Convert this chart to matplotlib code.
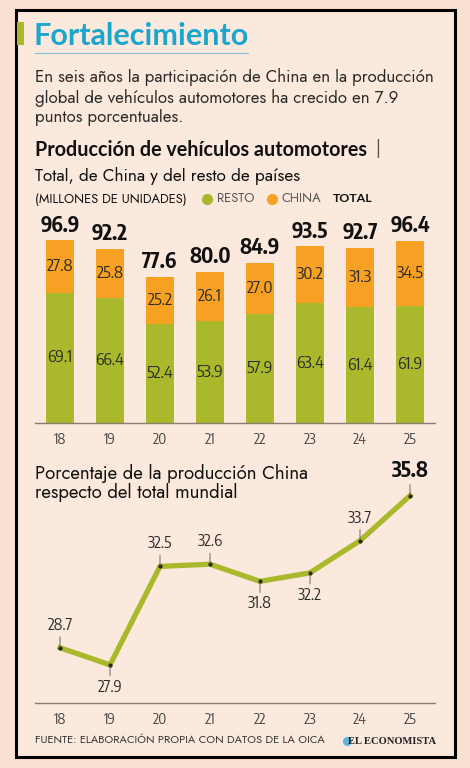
import matplotlib
matplotlib.use("Agg")
import matplotlib.pyplot as plt
from matplotlib.patches import Rectangle

# data
years = ["18", "19", "20", "21", "22", "23", "24", "25"]
resto = [69.1, 66.4, 52.4, 53.9, 57.9, 63.4, 61.4, 61.9]
china = [27.8, 25.8, 25.2, 26.1, 27.0, 30.2, 31.3, 34.5]
total = [96.9, 92.2, 77.6, 80.0, 84.9, 93.5, 92.7, 96.4]
share = [28.7, 27.9, 32.5, 32.6, 31.8, 32.2, 33.7, 35.8]
share_below = [False, True, False, False, True, True, False, False]

GREEN = "#a9b92b"
ORANGE = "#f6a124"
BLUE = "#1ba6cc"
TXT = "#2b2b2b"
BG_OUT = "#fae2d2"
BG_IN = "#fce9dd"

COND = ["Encode Sans Condensed", "DejaVu Sans"]
SANS = ["Jost", "Lato", "DejaVu Sans"]
BOLD = ["Lato", "DejaVu Sans"]  # Jost only ships a regular weight here

W, H = 470, 768
fig = plt.figure(figsize=(W / 100, H / 100), dpi=100, facecolor=BG_OUT)


def fx(x):
    return x / W


def fy(y):
    return 1 - y / H


def ftext(x, y, s, **kw):
    fig.text(fx(x), fy(y), s, **kw)


# frame
fig.patches.append(Rectangle((fx(16), fy(757)), fx(455) - fx(16), fy(10) - fy(757),
                             transform=fig.transFigure, facecolor=BG_IN,
                             edgecolor="black", linewidth=2.2, zorder=-5))
fig.patches.append(Rectangle((fx(17), fy(45)), fx(7), fy(22) - fy(45),
                             transform=fig.transFigure, facecolor=GREEN,
                             edgecolor="none", zorder=-4))
fig.lines.append(plt.Line2D([fx(35), fx(248)], [fy(53), fy(53)], transform=fig.transFigure,
                            color="#7cc3d8", lw=0.8))

ftext(33, 36, "Fortalecimiento", fontsize=22, fontweight="bold", color=BLUE,
      family=BOLD, va="center")
ftext(35, 97, "En seis años la participación de China en la producción\n"
      "global de vehículos automotores ha crecido en 7.9\npuntos porcentuales.",
      fontsize=12.1, color=TXT, family=SANS, va="center", linespacing=1.22)
ftext(35, 150, "Producción de vehículos automotores", fontsize=14.2, fontweight="bold",
      color="#111111", family=BOLD, va="center")
ftext(375, 149, "|", fontsize=13, color="#555555", family=SANS, va="center")
ftext(35, 176, "Total, de China y del resto de países", fontsize=12.4,
      color="#111111", family=SANS, va="center")
ftext(35, 199, "(MILLONES DE UNIDADES)", fontsize=9.3, color="#111111", family=SANS,
      va="center")
fig.lines.append(plt.Line2D([fx(207)], [fy(199)], transform=fig.transFigure, marker="o",
                            ms=7, color=GREEN, lw=0))
ftext(217, 199, "RESTO", fontsize=9.3, color="#555555", family=SANS, va="center")
fig.lines.append(plt.Line2D([fx(272)], [fy(199)], transform=fig.transFigure, marker="o",
                            ms=7, color=ORANGE, lw=0))
ftext(282, 199, "CHINA", fontsize=9.3, color="#555555", family=SANS, va="center")
ftext(333, 199, "TOTAL", fontsize=8.9, fontweight="bold", color="#111111", family=BOLD,
      va="center")

# bar chart
ax = fig.add_axes([fx(35), fy(423), fx(435) - fx(35), fy(225) - fy(423)])
ax.set_facecolor("none")
x = range(len(years))
ax.bar(x, resto, width=0.56, color=GREEN)
ax.bar(x, china, bottom=resto, width=0.56, color=ORANGE)
for i in x:
    ax.text(i, resto[i] / 2, f"{resto[i]:.1f}", ha="center", va="center",
            fontsize=12, color=TXT, family=COND)
    ax.text(i, resto[i] + china[i] / 2, f"{china[i]:.1f}", ha="center", va="center",
            fontsize=12, color=TXT, family=COND)
    ax.text(i, total[i] + 2, f"{total[i]:.1f}", ha="center", va="bottom",
            fontsize=15, fontweight="bold", color="#111111", family=COND)
ax.set_xlim(-0.5, 7.5)
ax.set_ylim(0, 105)
ax.set_yticks([])
ax.set_xticks(list(x))
ax.set_xticklabels(years, family=COND, fontsize=10.5, color="#444444")
ax.tick_params(axis="x", length=0, pad=7)
for s in ["top", "left", "right"]:
    ax.spines[s].set_visible(False)
ax.spines["bottom"].set_color("#8a7d72")
ax.spines["bottom"].set_linewidth(1)

# line chart
ftext(35, 483, "Porcentaje de la producción China\nrespecto del total mundial",
      fontsize=13.4, color="#111111", family=SANS, va="center", linespacing=1.05)

ax2 = fig.add_axes([fx(35), fy(703), fx(435) - fx(35), fy(470) - fy(703)])
ax2.set_facecolor("none")
ax2.plot(x, share, color=GREEN, lw=3.8, solid_joinstyle="miter", zorder=2)
ax2.plot(x, share, lw=0, marker="o", ms=2, color="#222222", zorder=3)
for i in x:
    last = i == len(years) - 1
    if share_below[i]:
        ax2.annotate("", xy=(i, share[i]), xytext=(0, -8), textcoords="offset points",
                     arrowprops=dict(arrowstyle="-", color="#555555", lw=0.6,
                                     shrinkA=0, shrinkB=0))
        ax2.annotate(f"{share[i]:.1f}", xy=(i, share[i]), xytext=(0, -10),
                     textcoords="offset points", ha="center", va="top",
                     fontsize=11.5, color=TXT, family=COND)
    else:
        ax2.annotate("", xy=(i, share[i]), xytext=(0, 8), textcoords="offset points",
                     arrowprops=dict(arrowstyle="-", color="#555555", lw=0.6,
                                     shrinkA=0, shrinkB=0))
        ax2.annotate(f"{share[i]:.1f}", xy=(i, share[i]), xytext=(0, 10),
                     textcoords="offset points", ha="center", va="bottom",
                     fontsize=15 if last else 11.5, fontweight="bold" if last else "normal",
                     color="#111111" if last else TXT, family=COND)
ax2.set_xlim(-0.5, 7.5)
ax2.set_ylim(26.12, 37.0)
ax2.set_yticks([])
ax2.set_xticks(list(x))
ax2.set_xticklabels(years, family=COND, fontsize=10.5, color="#444444")
ax2.tick_params(axis="x", length=0, pad=7)
for s in ["top", "left", "right"]:
    ax2.spines[s].set_visible(False)
ax2.spines["bottom"].set_color("#8a7d72")
ax2.spines["bottom"].set_linewidth(1)

# footer
ftext(35, 741, "FUENTE: ELABORACIÓN PROPIA CON DATOS DE LA OICA", fontsize=8.0,
      color="#333333", family=SANS, va="center")
fig.lines.append(plt.Line2D([fx(347)], [fy(741)], transform=fig.transFigure, marker="o",
                            ms=5.5, color="#5fb3dc", lw=0))
ftext(436, 741, "EL ECONOMISTA", fontsize=7.6, fontweight="bold", color="#222222",
      family="Liberation Serif", va="center", ha="right")

fig.savefig("out.png", dpi=100, facecolor=BG_OUT)
